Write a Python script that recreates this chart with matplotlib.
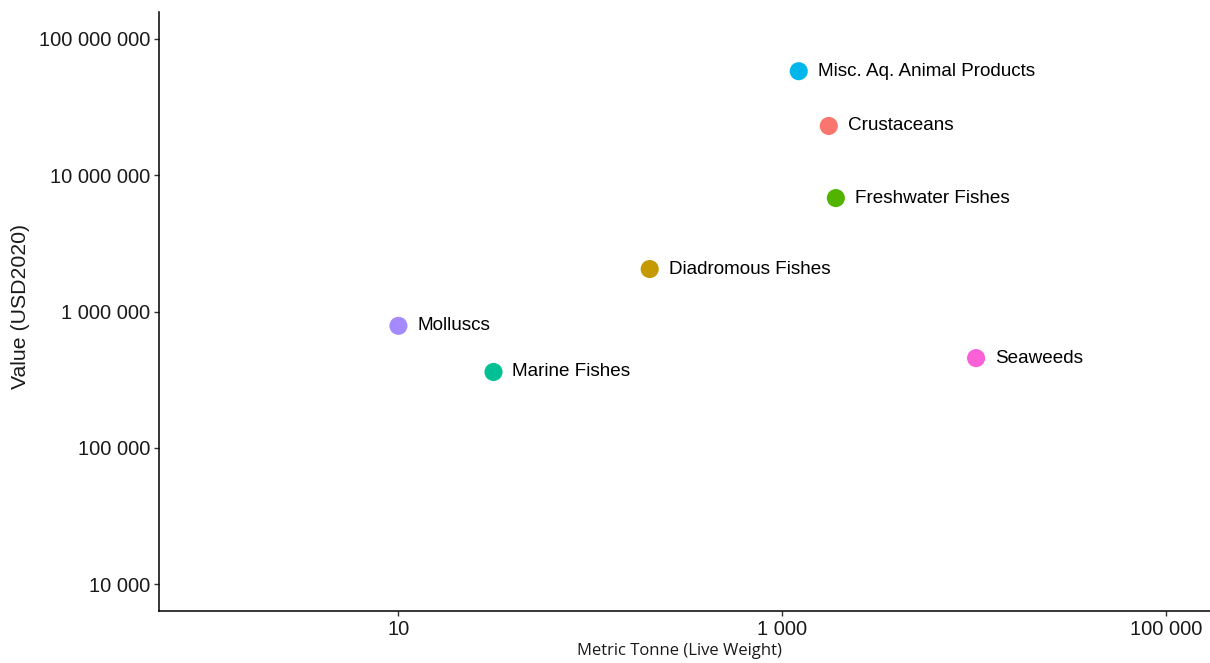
import matplotlib
matplotlib.use("Agg")
import matplotlib.pyplot as plt
from matplotlib.ticker import FixedLocator, NullLocator

# Data
categories = ["Crustaceans", "Diadromous Fishes", "Freshwater Fishes", "Marine Fishes",
              "Misc. Aq. Animal Products", "Molluscs", "Seaweeds"]
tonnes = [1750, 204, 1905, 31.3, 1220, 10, 10250]
values_usd = [2.3e7, 2.05e6, 6.8e6, 3.6e5, 5.8e7, 7.85e5, 4.55e5]
colors = ["#F8766D", "#C49A00", "#53B400", "#00C094", "#00B6EB", "#A58AFF", "#FB61D7"]

x_ticks = [10, 1000, 100000]
x_tick_labels = ["10", "1 000", "100 000"]
y_ticks = [1e4, 1e5, 1e6, 1e7, 1e8]
y_tick_labels = ["10 000", "100 000", "1 000 000", "10 000 000", "100 000 000"]

plt.rcParams['font.family'] = ['Liberation Sans', 'DejaVu Sans']

fig = plt.figure(figsize=(12.1, 6.63), dpi=100)
ax = fig.add_axes([0.1314, 0.0784, 0.8686, 0.9035])

ax.scatter(tonnes, values_usd, s=170, c=colors, edgecolors='none', zorder=3)
for x, y, lab in zip(tonnes, values_usd, categories):
    ax.annotate(lab, (x, y), xytext=(13.6, 0), textcoords='offset points',
                va='center', ha='left', fontsize=13.55, color='black')

ax.set_xscale('log')
ax.set_yscale('log')
ax.set_xlim(10 ** (-0.248), 10 ** 5.23)
ax.set_ylim(10 ** 3.802, 10 ** 8.198)

ax.xaxis.set_major_locator(FixedLocator(x_ticks))
ax.yaxis.set_major_locator(FixedLocator(y_ticks))
ax.xaxis.set_minor_locator(NullLocator())
ax.yaxis.set_minor_locator(NullLocator())
ax.set_xticklabels(x_tick_labels)
ax.set_yticklabels(y_tick_labels)

ax.tick_params(axis='both', direction='out', length=3.5, width=1, color='#333333',
               labelsize=14.5, labelcolor='#1a1a1a', pad=3)

for side in ['top', 'right']:
    ax.spines[side].set_visible(False)
for side in ['left', 'bottom']:
    ax.spines[side].set_linewidth(1.1)
    ax.spines[side].set_color('black')

ax.set_xlabel("Metric Tonne (Live Weight)", fontsize=12, family=['Open Sans', 'DejaVu Sans'],
              color='#1a1a1a', va='top')
ax.xaxis.set_label_coords(0.4948, -0.053)
ax.set_ylabel("Value (USD2020)", fontsize=15.3, color='#1a1a1a')
ax.yaxis.set_label_coords(-0.1227, 0.509)

fig.savefig("out.png", dpi=100)
